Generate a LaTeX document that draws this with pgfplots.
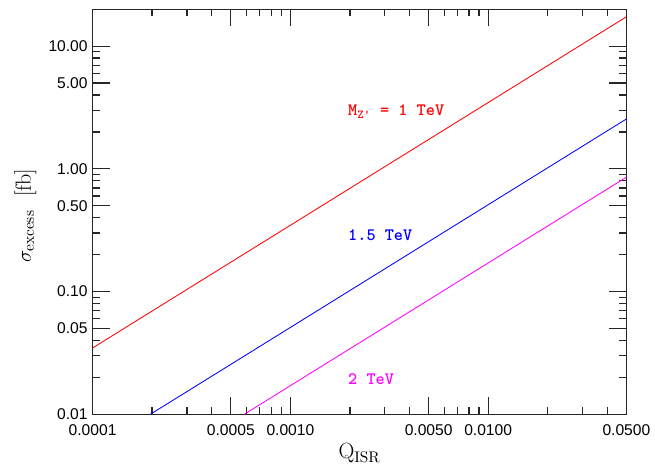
\documentclass[border=0pt]{standalone}
\usepackage{fontspec}
\usepackage{pgfplots}
\pgfplotsset{compat=1.18}
\newfontfamily\tickfont{Liberation Sans}
\definecolor{pmag}{RGB}{255,0,255}

\begin{document}
\begin{tikzpicture}
\begin{axis}[
  name=ax,
  scale only axis,
  width=376.4pt, height=285.6pt,
  xmode=log, ymode=log,
  xmin=0.0001, xmax=0.05, ymin=0.01, ymax=20,
  xtick={0.0001,0.0005,0.001,0.005,0.01,0.05},
  xticklabels={0.0001,0.0005,0.0010,0.0050,0.0100,0.0500},
  minor xtick={0.0002,0.0003,0.0004,0.0006,0.0007,0.0008,0.0009,
               0.002,0.003,0.004,0.006,0.007,0.008,0.009,0.02,0.03,0.04},
  ytick={0.01,0.05,0.1,0.5,1,5,10},
  yticklabels={0.01,0.05,0.10,0.50,1.00,5.00,10.00},
  minor ytick={0.02,0.03,0.04,0.06,0.07,0.08,0.09,0.2,0.3,0.4,0.6,0.7,0.8,0.9,
               2,3,4,6,7,8,9},
  tick align=inside, tick pos=both,
  major tick length=12pt, minor tick length=5pt,
  axis line style={black!85, line width=1pt},
  every tick/.style={black!85, line width=0.9pt},
  tick label style={font=\tickfont\fontsize{11}{13}\selectfont},
  xticklabel style={yshift=-4pt},
  xlabel={Q$_{\mathrm{ISR}}$},
  ylabel={$\sigma_{\mathrm{excess}}$\ \ [fb]},
  label style={font=\fontsize{15.5}{18}\selectfont},
  xlabel style={at={(axis description cs:0.5,-0.095)}, anchor=center},
  ylabel style={at={(axis description cs:-0.126,0.49)}, anchor=center},
  clip=true,
]
\addplot[red, line width=0.6pt] coordinates {(0.0001,0.0347) (0.001,0.347) (0.01,3.47) (0.05,17.35)};
\addplot[blue, line width=0.6pt] coordinates {(0.000196,0.01) (0.001,0.051) (0.01,0.51) (0.05,2.55)};
\addplot[pmag, line width=0.6pt] coordinates {(0.000585,0.01) (0.001,0.0171) (0.01,0.171) (0.05,0.855)};
\node[anchor=west, text=red, font=\ttfamily\bfseries\fontsize{12.3}{14}\selectfont] at (axis cs:0.00185,2.94) {M\textsubscript{Z'} = 1 TeV};
\node[anchor=west, text=blue, font=\ttfamily\bfseries\fontsize{12.3}{14}\selectfont] at (axis cs:0.00185,0.29) {1.5 TeV};
\node[anchor=west, text=pmag, font=\ttfamily\bfseries\fontsize{12.3}{14}\selectfont] at (axis cs:0.00185,0.0193) {2 TeV};
\end{axis}
\path (ax.south west) ++(-65.3pt,-38.3pt) rectangle ++(458.5pt,330.4pt);
\end{tikzpicture}
\end{document}
